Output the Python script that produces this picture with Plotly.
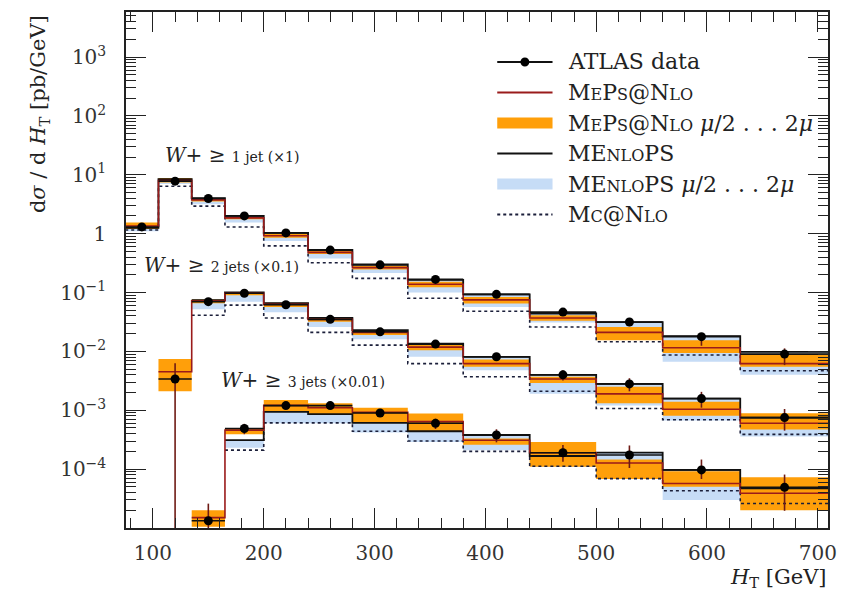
import plotly.graph_objects as go

# ---------------- data ----------------
ht_edges = [75, 105, 135, 165, 200, 240, 280, 330, 380, 440, 500, 560, 630, 710]

# W + >=1 jet (x1)
data_1jet = [1.3, 7.8, 3.96, 2.0, 1.03, 0.525, 0.295, 0.167, 0.093, 0.0465, 0.0315, 0.0178, 0.009]
errup_1jet = [0.08, 0.06, 0.06, 0.06, 0.07, 0.07, 0.08, 0.09, 0.1, 0.12, 0.15, 0.15, 0.25]
errdn_1jet = [0.08, 0.06, 0.06, 0.06, 0.07, 0.07, 0.08, 0.09, 0.1, 0.12, 0.15, 0.3, 0.35]
meps_1jet = [1.35, 8.0, 3.75, 1.85, 0.92, 0.48, 0.265, 0.138, 0.075, 0.037, 0.021, 0.0115, 0.0062]
meps_lo_1jet = [1.2, 7.4, 3.5, 1.75, 0.85, 0.45, 0.245, 0.123, 0.065, 0.033, 0.0155, 0.0094, 0.0055]
meps_hi_1jet = [1.55, 8.8, 3.95, 1.95, 1.0, 0.51, 0.285, 0.153, 0.084, 0.041, 0.026, 0.0155, 0.0091]
menlops_1jet = [1.25, 8.4, 4.0, 2.0, 1.03, 0.53, 0.30, 0.164, 0.093, 0.044, 0.0315, 0.0182, 0.0098]
menlops_lo_1jet = [1.1, 7.0, 3.16, 1.55, 0.75, 0.38, 0.215, 0.10, 0.057, 0.031, 0.019, 0.0067, 0.004]
mcnlo_1jet = [1.15, 6.4, 2.93, 1.30, 0.62, 0.32, 0.174, 0.08, 0.048, 0.026, 0.0146, 0.0087, 0.0047]

# W + >=2 jets (x0.1)
data_2jet = [None, 0.0034, 0.07, 0.097, 0.062, 0.035, 0.0215, 0.0133, 0.0081, 0.0040, 0.0028, 0.00158, 0.00075]
errup_2jet = [None, 0.85, 0.08, 0.07, 0.07, 0.08, 0.1, 0.12, 0.15, 0.2, 0.25, 0.3, 0.4]
errdn_2jet = [None, 1.0, 0.08, 0.07, 0.07, 0.08, 0.1, 0.12, 0.15, 0.2, 0.25, 0.3, 0.4]
meps_2jet = [None, 0.0045, 0.072, 0.097, 0.063, 0.035, 0.021, 0.0118, 0.0062, 0.0034, 0.0019, 0.00104, 0.0006]
meps_lo_2jet = [None, 0.0021, 0.066, 0.09, 0.057, 0.032, 0.019, 0.0105, 0.0055, 0.0029, 0.00131, 0.00081, 0.00047]
meps_hi_2jet = [None, 0.0074, 0.076, 0.102, 0.067, 0.037, 0.0225, 0.0128, 0.0073, 0.0037, 0.0025, 0.00139, 0.00089]
menlops_2jet = [None, None, 0.074, 0.100, 0.066, 0.037, 0.023, 0.0135, 0.0081, 0.0040, 0.0028, 0.00158, 0.00075]
menlops_lo_2jet = [None, None, 0.052, 0.07, 0.046, 0.026, 0.016, 0.0081, 0.0048, 0.0019, 0.0012, 0.00067, 0.00036]
mcnlo_2jet = [None, None, 0.041, 0.061, 0.037, 0.021, 0.0128, 0.0062, 0.0037, 0.0021, 0.00107, 0.00069, 0.00039]

# W + >=3 jets (x0.01)
data_3jet = [None, None, 1.33e-5, 4.9e-4, 1.2e-3, 1.2e-3, 9.0e-4, 6.0e-4, 3.8e-4, 1.9e-4, 1.74e-4, 9.7e-5, 4.9e-5]
errup_3jet = [None, None, 0.95, 0.2, 0.12, 0.12, 0.15, 0.2, 0.25, 0.35, 0.45, 0.5, 0.65]
errdn_3jet = [None, None, 1.0, 0.2, 0.12, 0.12, 0.15, 0.2, 0.25, 0.3, 0.4, 0.3, 0.6]
meps_3jet = [None, None, 1.5e-5, 4.6e-4, 1.21e-3, 1.1e-3, 9.2e-4, 6.4e-4, 3.1e-4, 1.9e-4, 1.27e-4, 5.7e-5, 3.9e-5]
meps_lo_3jet = [None, None, 1.05e-5, 3.9e-4, 9.4e-4, 8.4e-4, 6.1e-4, 4.4e-4, 2.6e-4, 1.1e-4, 6.8e-5, 5.0e-5, 2.0e-5]
meps_hi_3jet = [None, None, 2.0e-5, 5.0e-4, 1.5e-3, 1.31e-3, 1.1e-3, 8.8e-4, 3.3e-4, 2.9e-4, 1.46e-4, 9.2e-5, 7.3e-5]
menlops_3jet = [None, None, None, 3.1e-4, 9.4e-4, 8.6e-4, 6.1e-4, 4.4e-4, 3.8e-4, 1.67e-4, 1.9e-4, 9.7e-5, 4.7e-5]
menlops_lo_3jet = [None, None, None, 2.3e-4, 6.0e-4, 6.0e-4, 4.2e-4, 2.9e-4, 2.1e-4, 1.1e-4, 6.8e-5, 3.0e-5, 2.2e-5]
mcnlo_3jet = [None, None, None, 2.1e-4, 6.1e-4, 6.1e-4, 4.4e-4, 3.0e-4, 2.0e-4, 1.12e-4, 6.9e-5, 4.3e-5, 2.6e-5]

series_labels = ["<i>W</i>+ ≥ <span style='font-size:14px'>1 jet (×1)</span>",
                 "<i>W</i>+ ≥ <span style='font-size:14px'>2 jets (×0.1)</span>",
                 "<i>W</i>+ ≥ <span style='font-size:14px'>3 jets (×0.01)</span>"]
legend_labels = ["ATLAS data",
                 "M<span style='font-size:16px'>E</span>P<span style='font-size:16px'>S</span>@N<span style='font-size:16px'>LO</span>",
                 "M<span style='font-size:16px'>E</span>P<span style='font-size:16px'>S</span>@N<span style='font-size:16px'>LO</span> <i>μ</i>/2 . . . 2<i>μ</i>",
                 "ME<span style='font-size:16px'>NLO</span>PS",
                 "ME<span style='font-size:16px'>NLO</span>PS <i>μ</i>/2 . . . 2<i>μ</i>",
                 "M<span style='font-size:16px'>C</span>@N<span style='font-size:16px'>LO</span>"]
y_tickvals = [1e-4, 1e-3, 1e-2, 1e-1, 1, 10, 100, 1000]
y_ticktext = ["10<sup>−4</sup>", "10<sup>−3</sup>", "10<sup>−2</sup>", "10<sup>−1</sup>", "1",
              "10<sup>1</sup>", "10<sup>2</sup>", "10<sup>3</sup>"]
x_tickvals = [100, 200, 300, 400, 500, 600, 700]

# ---------------- styles ----------------
FONT = "DejaVu Serif"
C_ORANGE = "#ff9f0a"
C_BLUE = "#c6dcf6"
C_RED = "#9a1b1b"
C_BLACK = "#111111"
C_MC = "#1b1f3a"
C_ERR = "#6e1a14"

W, H = 845, 592
ML, MR, MT, MB = 126, 8, 12, 64
PW, PH = W - ML - MR, H - MT - MB


def pxx(p):
    return (p - ML) / PW


def pxy(p):
    return (H - MB - p) / PH


def step_xy(vals):
    xs, ys = [], []
    for i, v in enumerate(vals):
        if v is None:
            if xs and xs[-1] is not None:
                xs.append(None); ys.append(None)
            continue
        xs += [ht_edges[i], ht_edges[i + 1]]
        ys += [v, v]
    return xs, ys


def band_xy(lo, hi):
    xs, ys = [], []
    runs, cur = [], []
    for i in range(len(lo)):
        if lo[i] is not None and hi[i] is not None:
            cur.append(i)
        elif cur:
            runs.append(cur); cur = []
    if cur:
        runs.append(cur)
    for run in runs:
        px_, py_ = [], []
        for i in run:
            px_ += [ht_edges[i], ht_edges[i + 1]]
            py_ += [hi[i], hi[i]]
        for i in reversed(run):
            px_ += [ht_edges[i + 1], ht_edges[i]]
            py_ += [lo[i], lo[i]]
        px_.append(px_[0]); py_.append(py_[0])
        xs += px_ + [None]
        ys += py_ + [None]
    return xs, ys


series = [
    (data_1jet, errup_1jet, errdn_1jet, meps_1jet, meps_lo_1jet, meps_hi_1jet, menlops_1jet, menlops_lo_1jet, mcnlo_1jet),
    (data_2jet, errup_2jet, errdn_2jet, meps_2jet, meps_lo_2jet, meps_hi_2jet, menlops_2jet, menlops_lo_2jet, mcnlo_2jet),
    (data_3jet, errup_3jet, errdn_3jet, meps_3jet, meps_lo_3jet, meps_hi_3jet, menlops_3jet, menlops_lo_3jet, mcnlo_3jet),
]

fig = go.Figure()

# bands
for s in series:
    d, eu, ed, mp, mpl, mph, mn, mnl, mc = s
    bx, by = band_xy(mnl, mn)
    fig.add_trace(go.Scatter(x=bx, y=by, mode="lines", fill="toself", fillcolor=C_BLUE,
                             line=dict(width=0), hoverinfo="skip", showlegend=False))
for s in series:
    d, eu, ed, mp, mpl, mph, mn, mnl, mc = s
    bx, by = band_xy(mpl, mph)
    fig.add_trace(go.Scatter(x=bx, y=by, mode="lines", fill="toself", fillcolor=C_ORANGE,
                             line=dict(width=0), hoverinfo="skip", showlegend=False))

# lines
for s in series:
    d, eu, ed, mp, mpl, mph, mn, mnl, mc = s
    x, y = step_xy(mc)
    fig.add_trace(go.Scatter(x=x, y=y, mode="lines", line=dict(color=C_MC, width=1.6, dash="dot"),
                             showlegend=False, hoverinfo="skip"))
    x, y = step_xy(mn)
    fig.add_trace(go.Scatter(x=x, y=y, mode="lines", line=dict(color=C_BLACK, width=1.8),
                             showlegend=False, hoverinfo="skip"))
    x, y = step_xy(mp)
    fig.add_trace(go.Scatter(x=x, y=y, mode="lines", line=dict(color=C_RED, width=1.6),
                             showlegend=False, hoverinfo="skip"))

# data
for s in series:
    d, eu, ed = s[0], s[1], s[2]
    hx, hy, vx, vy, cx, cy = [], [], [], [], [], []
    for i, v in enumerate(d):
        if v is None:
            continue
        c = 0.5 * (ht_edges[i] + ht_edges[i + 1])
        lo = v * (1 - ed[i])
        if lo <= 0:
            lo = 1e-7
        hi = v * (1 + eu[i])
        vx += [c, c, None]; vy += [lo, hi, None]
        hx += [ht_edges[i], ht_edges[i + 1], None]; hy += [v, v, None]
        cx.append(c); cy.append(v)
    fig.add_trace(go.Scatter(x=vx, y=vy, mode="lines", line=dict(color=C_ERR, width=1.6),
                             showlegend=False, hoverinfo="skip"))
    fig.add_trace(go.Scatter(x=hx, y=hy, mode="lines", line=dict(color=C_BLACK, width=1.6),
                             showlegend=False, hoverinfo="skip"))
    fig.add_trace(go.Scatter(x=cx, y=cy, mode="markers", marker=dict(color="black", size=9),
                             showlegend=False, hoverinfo="skip"))

# ---------------- legend (drawn) ----------------
shapes = []
annotations = []
leg_y = [62, 92.5, 123, 153.5, 184, 214.5]
x0, x1, xt = 502, 558, 572
kinds = ["data", "red", "orange", "black", "blue", "dot"]
for yy, k, lab in zip(leg_y, kinds, legend_labels):
    if k in ("data", "red", "black", "dot"):
        col = {"data": C_BLACK, "red": C_RED, "black": C_BLACK, "dot": C_MC}[k]
        shapes.append(dict(type="line", xref="paper", yref="paper", x0=pxx(x0), x1=pxx(x1),
                           y0=pxy(yy), y1=pxy(yy),
                           line=dict(color=col, width=1.8, dash="dot" if k == "dot" else "solid")))
        if k == "data":
            r = 4.5
            shapes.append(dict(type="circle", xref="paper", yref="paper",
                               x0=pxx((x0 + x1) / 2 - r), x1=pxx((x0 + x1) / 2 + r),
                               y0=pxy(yy + r), y1=pxy(yy - r),
                               fillcolor="black", line=dict(color="black", width=0)))
    else:
        col = C_ORANGE if k == "orange" else C_BLUE
        shapes.append(dict(type="rect", xref="paper", yref="paper", x0=pxx(x0), x1=pxx(x1),
                           y0=pxy(yy + 5.5), y1=pxy(yy - 5.5), fillcolor=col, line=dict(width=0)))
    annotations.append(dict(xref="paper", yref="paper", x=pxx(xt), y=pxy(yy), xanchor="left",
                            yanchor="middle", text=lab, showarrow=False,
                            font=dict(family=FONT, size=22, color="#222")))

# series labels
for (lx, ly), lab in zip([(163, 155), (142, 265), (220, 380)], series_labels):
    annotations.append(dict(xref="paper", yref="paper", x=pxx(lx), y=pxy(ly), xanchor="left",
                            yanchor="middle", text=lab, showarrow=False,
                            font=dict(family=FONT, size=20, color="#222")))

# axis titles
annotations.append(dict(xref="paper", yref="paper", x=pxx(38), y=pxy(13), xanchor="center",
                        yanchor="top", textangle=-90, showarrow=False,
                        text="d<i>σ</i> / d <i>H</i><sub>T</sub> [pb/GeV]",
                        font=dict(family=FONT, size=21, color="#222")))
annotations.append(dict(xref="paper", yref="paper", x=pxx(838), y=pxy(578), xanchor="right",
                        yanchor="middle", showarrow=False,
                        text="<i>H</i><sub>T</sub> [GeV]",
                        font=dict(family=FONT, size=21, color="#222")))

axis_common = dict(showgrid=False, zeroline=False, showline=True, linewidth=1.5, linecolor="#222",
                   ticks="inside", ticklen=20, tickwidth=1.3, tickcolor="#222", mirror="allticks",
                   tickfont=dict(family=FONT, size=20, color="#333"))

fig.update_layout(
    width=W, height=H,
    margin=dict(l=ML, r=MR, t=MT, b=MB),
    paper_bgcolor="white", plot_bgcolor="white",
    showlegend=False,
    shapes=shapes, annotations=annotations,
    xaxis=dict(range=[75.7, 709.2], tickmode="array", tickvals=x_tickvals,
               minor=dict(dtick=20, ticks="inside", ticklen=10, tickwidth=1.3, tickcolor="#222"),
               ticklabelstandoff=6, **axis_common),
    yaxis=dict(type="log", range=[-5.0, 3.765], tickmode="array", tickvals=y_tickvals,
               ticktext=y_ticktext,
               minor=dict(dtick="D1", ticks="inside", ticklen=10, tickwidth=1.3, tickcolor="#222"),
               ticklabelstandoff=14, **axis_common),
)

fig.write_html("out.html")
